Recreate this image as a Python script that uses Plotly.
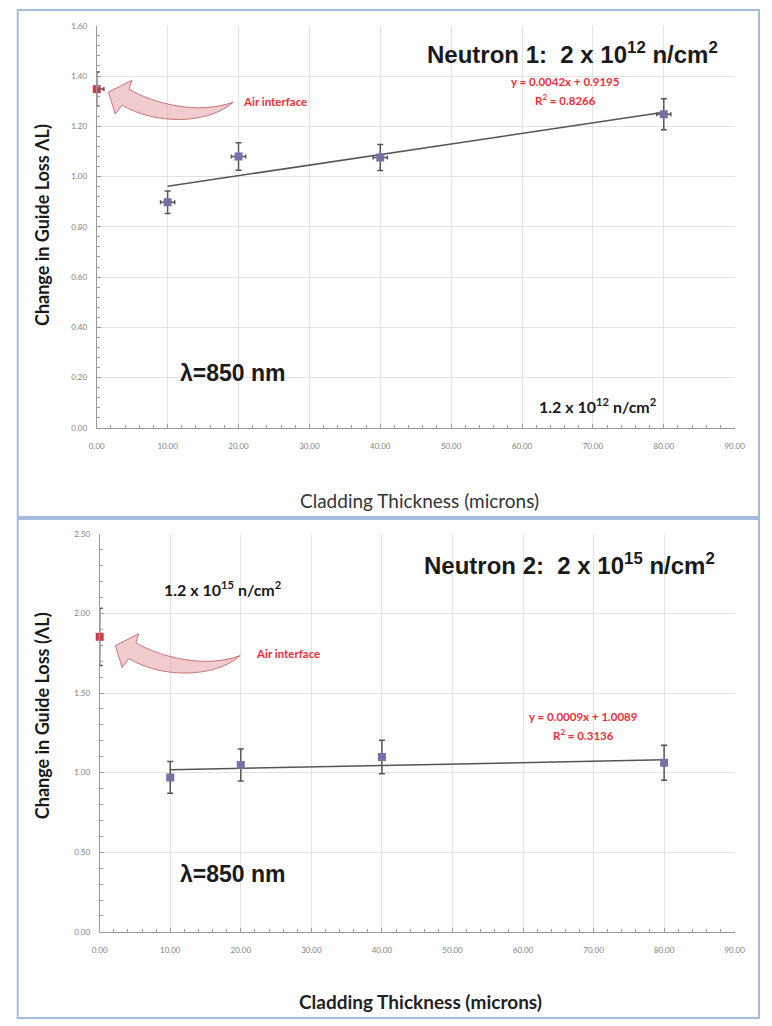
import plotly.graph_objects as go

W, H = 772, 1026

# ---------------- data ----------------
thickness = [10, 20, 40, 80]

# Neutron 1 (2 x 10^12 n/cm^2)
n1_loss = [0.898, 1.080, 1.076, 1.248]
n1_err = [0.045, 0.055, 0.052, 0.062]
n1_xerr = [1.0, 1.0, 1.0, 1.0]
n1_air_x = [0]
n1_air_loss = [1.348]
n1_air_err = [0.068]
n1_slope, n1_intercept = 0.0042, 0.9195
n1_r2 = 0.8266

# Neutron 2 (2 x 10^15 n/cm^2)
n2_loss = [0.970, 1.048, 1.098, 1.062]
n2_err = [0.100, 0.100, 0.105, 0.110]
n2_air_x = [0]
n2_air_loss = [1.853]
n2_air_err = [0.180]
n2_slope, n2_intercept = 0.0009, 1.0089
n2_r2 = 0.3136

trend_x = [10, 80]

x_ticks = [0, 10, 20, 30, 40, 50, 60, 70, 80, 90]
y1_ticks = [0, 0.2, 0.4, 0.6, 0.8, 1.0, 1.2, 1.4, 1.6]
y2_ticks = [0, 0.5, 1.0, 1.5, 2.0, 2.5]

# ---------------- helpers (page pixel -> paper) ----------------
def px(x):
    return x / W

def py(y):
    return 1 - y / H

DATA_COLOR = "#7a6ea6"
AIR_COLOR = "#c8404a"
ERR_COLOR = "#555555"
RED_TXT = "#e8303a"
CAL = "Lato, 'Open Sans', sans-serif"
ARIAL = "'Liberation Sans', Arial, sans-serif"

fig = go.Figure()

# ---- top panel traces ----
fig.add_trace(go.Scatter(
    x=[trend_x[0], trend_x[1]],
    y=[n1_slope * trend_x[0] + n1_intercept, n1_slope * trend_x[1] + n1_intercept],
    mode="lines", line=dict(color="#555555", width=1.5),
    xaxis="x", yaxis="y", showlegend=False, hoverinfo="skip"))
fig.add_trace(go.Scatter(
    x=thickness, y=n1_loss, mode="markers",
    marker=dict(symbol="square", size=8, color=DATA_COLOR),
    error_y=dict(type="data", array=n1_err, color=ERR_COLOR, thickness=1.5, width=3),
    error_x=dict(type="data", array=n1_xerr, color=ERR_COLOR, thickness=1.5, width=2),
    xaxis="x", yaxis="y", showlegend=False))
fig.add_trace(go.Scatter(
    x=n1_air_x, y=n1_air_loss, mode="markers", cliponaxis=False,
    marker=dict(symbol="square", size=8, color=AIR_COLOR),
    error_y=dict(type="data", array=n1_air_err, color=ERR_COLOR, thickness=1.5, width=3),
    error_x=dict(type="data", array=[1.0], color=ERR_COLOR, thickness=1.5, width=2),
    xaxis="x", yaxis="y", showlegend=False))

# ---- bottom panel traces ----
fig.add_trace(go.Scatter(
    x=[trend_x[0], trend_x[1]],
    y=[n2_slope * trend_x[0] + n2_intercept, n2_slope * trend_x[1] + n2_intercept],
    mode="lines", line=dict(color="#555555", width=1.5),
    xaxis="x2", yaxis="y2", showlegend=False, hoverinfo="skip"))
fig.add_trace(go.Scatter(
    x=thickness, y=n2_loss, mode="markers",
    marker=dict(symbol="square", size=8, color=DATA_COLOR),
    error_y=dict(type="data", array=n2_err, color=ERR_COLOR, thickness=1.5, width=3),
    xaxis="x2", yaxis="y2", showlegend=False))
fig.add_trace(go.Scatter(
    x=n2_air_x, y=n2_air_loss, mode="markers", cliponaxis=False,
    marker=dict(symbol="square", size=8, color=AIR_COLOR),
    error_y=dict(type="data", array=n2_air_err, color=ERR_COLOR, thickness=1.5, width=3),
    xaxis="x2", yaxis="y2", showlegend=False))

# ---------------- axes ----------------
tickfont = dict(family=CAL, size=8, color="#808080")

def xaxis(domain, anchor):
    return dict(
        domain=domain, anchor=anchor, range=[0, 90],
        tickvals=x_ticks, tickformat=".2f", tickfont=tickfont,
        showgrid=True, gridcolor="#e2e2e2", gridwidth=1, zeroline=False,
        showline=True, linecolor="#9a9a9a", linewidth=1,
        ticks="inside", ticklen=4, tickcolor="#9a9a9a",
        ticklabelstandoff=11,
        minor=dict(dtick=2, ticks="inside", ticklen=3, tickcolor="#9a9a9a", showgrid=False),
        fixedrange=True)

def yaxis(domain, anchor, rng, tv, mdt):
    return dict(
        domain=domain, anchor=anchor, range=rng,
        tickvals=tv, tickformat=".2f", tickfont=tickfont,
        showgrid=True, gridcolor="#e2e2e2", gridwidth=1, zeroline=False,
        showline=True, linecolor="#9a9a9a", linewidth=1,
        ticks="inside", ticklen=4, tickcolor="#9a9a9a",
        ticklabelstandoff=7,
        minor=dict(dtick=mdt, ticks="inside", ticklen=3, tickcolor="#9a9a9a", showgrid=False),
        fixedrange=True)

top_x_dom = [px(91), px(745)]
top_y_dom = [py(427), py(21)]
bot_x_dom = [px(94), px(745)]
bot_y_dom = [py(936), py(534)]

# ---------------- annotations ----------------
ann = []

def text(x, y, s, size, family=CAL, color="#222222", xanchor="center", angle=0):
    ann.append(dict(x=px(x), y=py(y), xref="paper", yref="paper", text=s,
                    showarrow=False, xanchor=xanchor, yanchor="middle",
                    textangle=angle, font=dict(family=family, size=size, color=color)))

NB = "\u00a0"
# top panel
text(730, 48, f"<b>Neutron 1:{NB} 2 x 10<sup>12</sup> n/cm<sup>2</sup></b>", 24, ARIAL, "#1a1a1a", "right")
text(572, 77, f"<b>y = {n1_slope}x + {n1_intercept}</b>", 11.5, CAL, RED_TXT)
text(572, 95, f"<b>R<sup>2</sup> = {n1_r2}</b>", 11.5, CAL, RED_TXT)
text(274, 97, "<b>Air interface</b>", 11.5, CAL, RED_TXT)
text(231, 372, "<b>λ=850 nm</b>", 23, ARIAL, "#1a1a1a")
text(604, 404, "<b>1.2 x 10<sup>12</sup> n/cm<sup>2</sup></b>", 16, CAL, "#1a1a1a")
text(35, 222, "<b>Change in Guide Loss ΛL)</b>", 18, CAL, "#1a1a1a", angle=-90)
text(422, 500, "Cladding Thickness (microns)", 19, CAL, "#333333")

# bottom panel
text(727, 565, f"<b>Neutron 2:{NB} 2 x 10<sup>15</sup> n/cm<sup>2</sup></b>", 24, ARIAL, "#1a1a1a", "right")
text(220, 589, "<b>1.2 x 10<sup>15</sup> n/cm<sup>2</sup></b>", 16, CAL, "#1a1a1a")
text(287, 655, "<b>Air interface</b>", 11.5, CAL, RED_TXT)
text(590, 718, f"<b>y = {n2_slope}x + {n2_intercept}</b>", 11.5, CAL, RED_TXT)
text(590, 737, f"<b>R<sup>2</sup> = {n2_r2}</b>", 11.5, CAL, RED_TXT)
text(231, 878, "<b>λ=850 nm</b>", 23, ARIAL, "#1a1a1a")
text(35, 718, "<b>Change in Guide Loss (ΛL)</b>", 18, CAL, "#1a1a1a", angle=-90)
text(423, 1006, "<b>Cladding Thickness (microns)</b>", 19, CAL, "#222222")

# ---------------- shapes (panel frames and curved arrows) ----------------
shapes = []
for (y0, y1) in [(5, 517), (519, 1023)]:
    shapes.append(dict(type="rect", xref="paper", yref="paper",
                       x0=px(10), x1=px(770), y0=py(y1), y1=py(y0),
                       line=dict(color="#a3bbdd", width=2), fillcolor="rgba(0,0,0,0)",
                       layer="below"))

def arrow_path(dx, dy):
    def P(x, y):
        return f"{px(x + dx):.5f},{py(y + dy):.5f}"
    return ("M" + P(103, 88) + " L" + P(127, 76) + " L" + P(124, 85) +
            " C" + P(150, 100) + " " + P(196, 111) + " " + P(231, 98) +
            " C" + P(205, 121) + " " + P(150, 121) + " " + P(117, 101) +
            " L" + P(110, 110) + " Z")

for (dx, dy) in [(0, 0), (7, 559)]:
    shapes.append(dict(type="path", xref="paper", yref="paper", path=arrow_path(dx, dy),
                       fillcolor="rgba(232,160,165,0.55)",
                       line=dict(color="rgba(190,95,100,0.85)", width=1)))

fig.update_layout(
    width=W, height=H, margin=dict(l=0, r=0, t=0, b=0),
    paper_bgcolor="white", plot_bgcolor="white",
    xaxis=xaxis(top_x_dom, "y"),
    yaxis=yaxis(top_y_dom, "x", [0, 1.6], y1_ticks, 0.04),
    xaxis2=xaxis(bot_x_dom, "y2"),
    yaxis2=yaxis(bot_y_dom, "x2", [0, 2.5], y2_ticks, 0.1),
    annotations=ann, shapes=shapes, showlegend=False,
)

fig.write_html("out.html", config={"displayModeBar": False},
               post_script="document.body.style.margin='0px';document.body.style.overflow='hidden';")
